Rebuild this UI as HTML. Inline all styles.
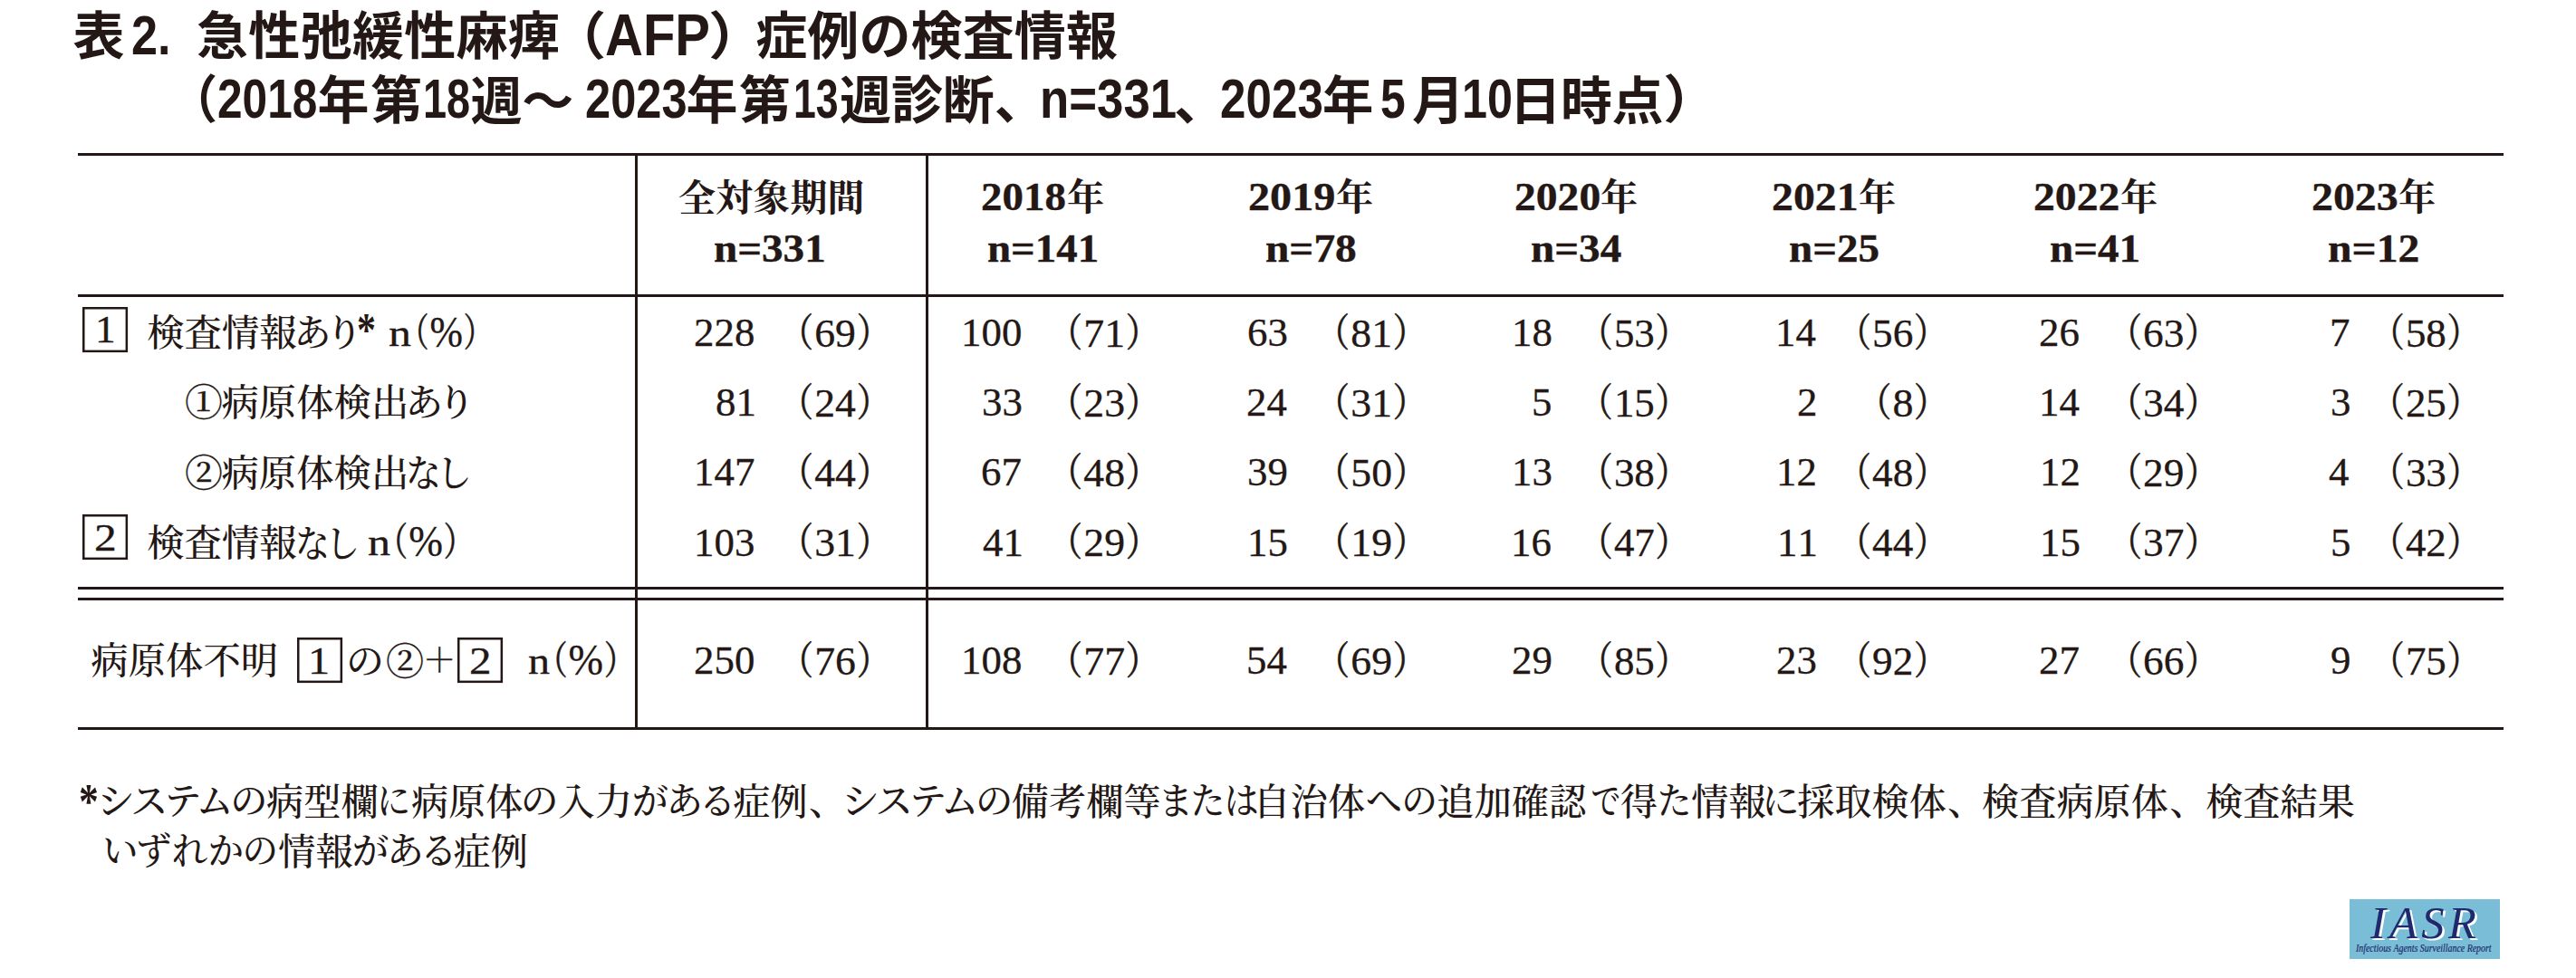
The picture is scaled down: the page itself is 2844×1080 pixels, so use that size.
<!DOCTYPE html>
<html lang="ja">
<head>
<meta charset="utf-8">
<title>表2. 急性弛緩性麻痺（AFP）症例の検査情報</title>
<style>
html,body{margin:0;padding:0;background:#fff;}
body{width:2844px;height:1080px;position:relative;overflow:hidden;color:#231815;}
.r{position:absolute;display:block;white-space:nowrap;line-height:1;transform-origin:0 0;margin:0;padding:0;font-kerning:none;}
.g{font-family:"Liberation Sans","Noto Sans CJK JP",sans-serif;font-weight:700;}
.m{font-family:"Liberation Serif","Noto Serif CJK JP","Noto Serif CJK SC",serif;font-weight:500;}
.mb{font-family:"Liberation Serif","Noto Serif CJK JP","Noto Serif CJK SC",serif;font-weight:700;}
.ln{position:absolute;background:#231815;}
.p{font-feature-settings:"palt" 1;font-size:0.975em;display:inline-block;transform:scaleX(0.82);-webkit-text-stroke:0.55px #231815;}
.pa{font-feature-settings:"palt" 1;}
.q{font-size:0.89em;}
.d{-webkit-text-stroke:0.3px #231815;}
.hd{-webkit-text-stroke:0.4px #231815;}
.box{position:absolute;box-sizing:border-box;border:1px solid #231815;width:20px;height:20px;transform:scale(2.505);transform-origin:0 0;}
.it{font-family:"Liberation Serif",serif;font-style:italic;font-weight:400;color:#1f2a6e;}
.logo{position:absolute;left:2594px;top:993px;width:166px;height:66px;background:#7abdd6;}

</style>
</head>
<body>
<div class="ln" style="left:86px;top:169px;width:2678px;height:3px"></div>
<div class="ln" style="left:86px;top:325px;width:2678px;height:3px"></div>
<div class="ln" style="left:86px;top:648px;width:2678px;height:3px"></div>
<div class="ln" style="left:86px;top:660px;width:2678px;height:3px"></div>
<div class="ln" style="left:86px;top:803px;width:2678px;height:3px"></div>
<div class="ln" style="left:701px;top:169px;width:3px;height:637px"></div>
<div class="ln" style="left:1022px;top:169px;width:3px;height:637px"></div>
<div class="box" style="left:91.1px;top:338.9px"></div>
<div class="box" style="left:91.1px;top:568.2px"></div>
<div class="box" style="left:327.6px;top:704.0px"></div>
<div class="box" style="left:504.8px;top:704.0px"></div>
<div class="logo"></div>
<span class="r g" style="left:80.44px;top:11.60px;font-size:57px;">表</span>
<span class="r g" style="left:144.72px;top:8.20px;font-size:62px;transform:scaleX(0.8422);">2.</span>
<span class="r g" style="left:217.10px;top:12.20px;font-size:57px;letter-spacing:0.28px;">急性弛緩性麻痺</span>
<span class="r g" style="left:608.25px;top:12.00px;font-size:57px;transform:scaleX(1.0750);">（</span>
<span class="r g" style="left:668.01px;top:6.90px;font-size:64.9px;transform:scaleX(0.8944);">AFP</span>
<span class="r g" style="left:782.30px;top:12.00px;font-size:57px;transform:scaleX(1.1000);">）</span>
<span class="r g" style="left:834.20px;top:12.20px;font-size:57px;letter-spacing:0.13px;">症例の検査情報</span>
<span class="r g" style="left:186.00px;top:82.30px;font-size:57px;transform:scaleX(0.9500);">（</span>
<span class="r g" style="left:240.30px;top:78.30px;font-size:62px;transform:scaleX(0.8000);">2018</span>
<span class="r g" style="left:350.60px;top:82.50px;font-size:57px;letter-spacing:1.6px;">年第</span>
<span class="r g" style="left:467.17px;top:78.30px;font-size:62px;transform:scaleX(0.7571);">18</span>
<span class="r g" style="left:519.40px;top:83.50px;font-size:57px;letter-spacing:-0.2px;">週～</span>
<span class="r g" style="left:645.89px;top:78.30px;font-size:62px;transform:scaleX(0.8165);">2023</span>
<span class="r g" style="left:757.50px;top:82.50px;font-size:57px;letter-spacing:1.5px;">年第</span>
<span class="r g" style="left:876.12px;top:78.30px;font-size:62px;transform:scaleX(0.7206);">13</span>
<span class="r g" style="left:927.00px;top:82.50px;font-size:57px;letter-spacing:-0.1px;">週診断、</span>
<span class="r g" style="left:1148.09px;top:78.30px;font-size:62px;transform:scaleX(0.8517);">n=331</span>
<span class="r g" style="left:1296.31px;top:83.50px;font-size:57px;transform:scaleX(1.0294);">、</span>
<span class="r g" style="left:1347.25px;top:78.30px;font-size:62px;transform:scaleX(0.8254);">2023</span>
<span class="r g" style="left:1459.92px;top:82.50px;font-size:57px;transform:scaleX(0.9887);">年</span>
<span class="r g" style="left:1523.89px;top:78.30px;font-size:62px;transform:scaleX(0.8032);">5</span>
<span class="r g" style="left:1558.87px;top:82.50px;font-size:57px;transform:scaleX(1.0130);">月</span>
<span class="r g" style="left:1613.95px;top:78.30px;font-size:62px;transform:scaleX(0.8113);">10</span>
<span class="r g" style="left:1666.50px;top:83.50px;font-size:57px;letter-spacing:-0.45px;">日時点</span>
<span class="r g" style="left:1835.92px;top:82.30px;font-size:57px;transform:scaleX(1.0938);">）</span>
<span class="r mb" style="left:749.00px;top:198.60px;font-size:41px;letter-spacing:0.15px;">全対象期間</span>
<span class="r mb hd" style="left:788.12px;top:253.30px;font-size:43.8px;transform:scaleX(1.0759);">n=331</span>
<span class="r mb hd" style="left:1082.53px;top:196.30px;font-size:43.8px;transform:scaleX(1.0716);">2018</span>
<span class="r mb" style="left:1177.99px;top:197.90px;font-size:41px;transform:scaleX(1.0053);">年</span>
<span class="r mb hd" style="left:1089.53px;top:253.30px;font-size:43.8px;transform:scaleX(1.0705);">n=141</span>
<span class="r mb hd" style="left:1378.20px;top:196.30px;font-size:43.8px;transform:scaleX(1.1000);">2019</span>
<span class="r mb" style="left:1475.09px;top:197.90px;font-size:41px;transform:scaleX(1.0053);">年</span>
<span class="r mb hd" style="left:1397.22px;top:253.30px;font-size:43.8px;transform:scaleX(1.0824);">n=78</span>
<span class="r mb hd" style="left:1671.63px;top:196.30px;font-size:43.8px;transform:scaleX(1.0869);">2020</span>
<span class="r mb" style="left:1767.39px;top:197.90px;font-size:41px;transform:scaleX(1.0053);">年</span>
<span class="r mb hd" style="left:1689.72px;top:253.30px;font-size:43.8px;transform:scaleX(1.0761);">n=34</span>
<span class="r mb hd" style="left:1955.62px;top:196.30px;font-size:43.8px;transform:scaleX(1.0917);">2021</span>
<span class="r mb" style="left:2051.79px;top:197.90px;font-size:41px;transform:scaleX(1.0053);">年</span>
<span class="r mb hd" style="left:1974.63px;top:253.30px;font-size:43.8px;transform:scaleX(1.0747);">n=25</span>
<span class="r mb hd" style="left:2245.32px;top:196.30px;font-size:43.8px;transform:scaleX(1.0881);">2022</span>
<span class="r mb" style="left:2341.19px;top:197.90px;font-size:41px;transform:scaleX(1.0053);">年</span>
<span class="r mb hd" style="left:2263.43px;top:253.30px;font-size:43.8px;transform:scaleX(1.0744);">n=41</span>
<span class="r mb hd" style="left:2552.21px;top:196.30px;font-size:43.8px;transform:scaleX(1.0929);">2023</span>
<span class="r mb" style="left:2648.49px;top:197.90px;font-size:41px;transform:scaleX(1.0053);">年</span>
<span class="r mb hd" style="left:2570.31px;top:253.30px;font-size:43.8px;transform:scaleX(1.0879);">n=12</span>
<span class="r m d" style="left:765.56px;top:346.10px;font-size:44px;transform:scaleX(1.0200);">228</span>
<span class="r m d" style="left:877.00px;top:346.60px;font-size:44px;transform:scaleX(1.0380);"><span class="p">（</span>69<span class="p">）</span></span>
<span class="r m d" style="left:1061.10px;top:346.10px;font-size:44px;transform:scaleX(1.0200);">100</span>
<span class="r m d" style="left:1174.38px;top:346.60px;font-size:44px;transform:scaleX(1.0394);"><span class="p">（</span>71<span class="p">）</span></span>
<span class="r m d" style="left:1377.16px;top:346.10px;font-size:44px;transform:scaleX(1.0200);">63</span>
<span class="r m d" style="left:1469.08px;top:346.60px;font-size:44px;transform:scaleX(1.0394);"><span class="p">（</span>81<span class="p">）</span></span>
<span class="r m d" style="left:1668.96px;top:346.10px;font-size:44px;transform:scaleX(1.0200);">18</span>
<span class="r m d" style="left:1760.43px;top:346.60px;font-size:44px;transform:scaleX(1.0211);"><span class="p">（</span>53<span class="p">）</span></span>
<span class="r m d" style="left:1960.10px;top:346.10px;font-size:44px;transform:scaleX(1.0200);">14</span>
<span class="r m d" style="left:2044.77px;top:346.60px;font-size:44px;transform:scaleX(1.0282);"><span class="p">（</span>56<span class="p">）</span></span>
<span class="r m d" style="left:2251.44px;top:346.10px;font-size:44px;transform:scaleX(1.0200);">26</span>
<span class="r m d" style="left:2343.57px;top:346.60px;font-size:44px;transform:scaleX(1.0282);"><span class="p">（</span>63<span class="p">）</span></span>
<span class="r m d" style="left:2572.18px;top:346.10px;font-size:44px;transform:scaleX(1.0200);">7</span>
<span class="r m d" style="left:2634.03px;top:346.60px;font-size:44px;transform:scaleX(1.0211);"><span class="p">（</span>58<span class="p">）</span></span>
<span class="r m d" style="left:789.60px;top:423.10px;font-size:44px;transform:scaleX(1.0200);">81</span>
<span class="r m d" style="left:877.00px;top:423.60px;font-size:44px;transform:scaleX(1.0380);"><span class="p">（</span>24<span class="p">）</span></span>
<span class="r m d" style="left:1084.26px;top:423.10px;font-size:44px;transform:scaleX(1.0200);">33</span>
<span class="r m d" style="left:1174.38px;top:423.60px;font-size:44px;transform:scaleX(1.0394);"><span class="p">（</span>23<span class="p">）</span></span>
<span class="r m d" style="left:1375.92px;top:423.10px;font-size:44px;transform:scaleX(1.0200);">24</span>
<span class="r m d" style="left:1469.08px;top:423.60px;font-size:44px;transform:scaleX(1.0394);"><span class="p">（</span>31<span class="p">）</span></span>
<span class="r m d" style="left:1691.40px;top:423.10px;font-size:44px;transform:scaleX(1.0200);">5</span>
<span class="r m d" style="left:1760.43px;top:423.60px;font-size:44px;transform:scaleX(1.0211);"><span class="p">（</span>15<span class="p">）</span></span>
<span class="r m d" style="left:1983.70px;top:423.10px;font-size:44px;transform:scaleX(1.0200);">2</span>
<span class="r m d" style="left:2067.08px;top:423.60px;font-size:44px;transform:scaleX(1.0449);"><span class="p">（</span>8<span class="p">）</span></span>
<span class="r m d" style="left:2251.46px;top:423.10px;font-size:44px;transform:scaleX(1.0200);">14</span>
<span class="r m d" style="left:2343.57px;top:423.60px;font-size:44px;transform:scaleX(1.0282);"><span class="p">（</span>34<span class="p">）</span></span>
<span class="r m d" style="left:2573.20px;top:423.10px;font-size:44px;transform:scaleX(1.0200);">3</span>
<span class="r m d" style="left:2634.03px;top:423.60px;font-size:44px;transform:scaleX(1.0211);"><span class="p">（</span>25<span class="p">）</span></span>
<span class="r m d" style="left:765.50px;top:500.30px;font-size:44px;transform:scaleX(1.0200);">147</span>
<span class="r m d" style="left:877.00px;top:500.80px;font-size:44px;transform:scaleX(1.0380);"><span class="p">（</span>44<span class="p">）</span></span>
<span class="r m d" style="left:1083.24px;top:500.30px;font-size:44px;transform:scaleX(1.0200);">67</span>
<span class="r m d" style="left:1174.38px;top:500.80px;font-size:44px;transform:scaleX(1.0394);"><span class="p">（</span>48<span class="p">）</span></span>
<span class="r m d" style="left:1377.16px;top:500.30px;font-size:44px;transform:scaleX(1.0200);">39</span>
<span class="r m d" style="left:1469.08px;top:500.80px;font-size:44px;transform:scaleX(1.0394);"><span class="p">（</span>50<span class="p">）</span></span>
<span class="r m d" style="left:1668.96px;top:500.30px;font-size:44px;transform:scaleX(1.0200);">13</span>
<span class="r m d" style="left:1760.43px;top:500.80px;font-size:44px;transform:scaleX(1.0211);"><span class="p">（</span>38<span class="p">）</span></span>
<span class="r m d" style="left:1961.26px;top:500.30px;font-size:44px;transform:scaleX(1.0200);">12</span>
<span class="r m d" style="left:2044.77px;top:500.80px;font-size:44px;transform:scaleX(1.0282);"><span class="p">（</span>48<span class="p">）</span></span>
<span class="r m d" style="left:2252.46px;top:500.30px;font-size:44px;transform:scaleX(1.0200);">12</span>
<span class="r m d" style="left:2343.57px;top:500.80px;font-size:44px;transform:scaleX(1.0282);"><span class="p">（</span>29<span class="p">）</span></span>
<span class="r m d" style="left:2571.16px;top:500.30px;font-size:44px;transform:scaleX(1.0200);">4</span>
<span class="r m d" style="left:2634.03px;top:500.80px;font-size:44px;transform:scaleX(1.0211);"><span class="p">（</span>33<span class="p">）</span></span>
<span class="r m d" style="left:765.56px;top:577.50px;font-size:44px;transform:scaleX(1.0200);">103</span>
<span class="r m d" style="left:877.00px;top:578.00px;font-size:44px;transform:scaleX(1.0380);"><span class="p">（</span>31<span class="p">）</span></span>
<span class="r m d" style="left:1085.14px;top:577.50px;font-size:44px;transform:scaleX(1.0200);">41</span>
<span class="r m d" style="left:1174.38px;top:578.00px;font-size:44px;transform:scaleX(1.0394);"><span class="p">（</span>29<span class="p">）</span></span>
<span class="r m d" style="left:1377.16px;top:577.50px;font-size:44px;transform:scaleX(1.0200);">15</span>
<span class="r m d" style="left:1469.08px;top:578.00px;font-size:44px;transform:scaleX(1.0394);"><span class="p">（</span>19<span class="p">）</span></span>
<span class="r m d" style="left:1667.94px;top:577.50px;font-size:44px;transform:scaleX(1.0200);">16</span>
<span class="r m d" style="left:1760.43px;top:578.00px;font-size:44px;transform:scaleX(1.0211);"><span class="p">（</span>47<span class="p">）</span></span>
<span class="r m d" style="left:1962.14px;top:577.50px;font-size:44px;transform:scaleX(1.0200);">11</span>
<span class="r m d" style="left:2044.77px;top:578.00px;font-size:44px;transform:scaleX(1.0282);"><span class="p">（</span>44<span class="p">）</span></span>
<span class="r m d" style="left:2252.46px;top:577.50px;font-size:44px;transform:scaleX(1.0200);">15</span>
<span class="r m d" style="left:2343.57px;top:578.00px;font-size:44px;transform:scaleX(1.0282);"><span class="p">（</span>37<span class="p">）</span></span>
<span class="r m d" style="left:2573.20px;top:577.50px;font-size:44px;transform:scaleX(1.0200);">5</span>
<span class="r m d" style="left:2634.03px;top:578.00px;font-size:44px;transform:scaleX(1.0211);"><span class="p">（</span>42<span class="p">）</span></span>
<span class="r m d" style="left:765.56px;top:708.10px;font-size:44px;transform:scaleX(1.0200);">250</span>
<span class="r m d" style="left:877.00px;top:708.60px;font-size:44px;transform:scaleX(1.0380);"><span class="p">（</span>76<span class="p">）</span></span>
<span class="r m d" style="left:1061.10px;top:708.10px;font-size:44px;transform:scaleX(1.0200);">108</span>
<span class="r m d" style="left:1174.38px;top:708.60px;font-size:44px;transform:scaleX(1.0394);"><span class="p">（</span>77<span class="p">）</span></span>
<span class="r m d" style="left:1375.92px;top:708.10px;font-size:44px;transform:scaleX(1.0200);">54</span>
<span class="r m d" style="left:1469.08px;top:708.60px;font-size:44px;transform:scaleX(1.0394);"><span class="p">（</span>69<span class="p">）</span></span>
<span class="r m d" style="left:1668.96px;top:708.10px;font-size:44px;transform:scaleX(1.0200);">29</span>
<span class="r m d" style="left:1760.43px;top:708.60px;font-size:44px;transform:scaleX(1.0211);"><span class="p">（</span>85<span class="p">）</span></span>
<span class="r m d" style="left:1961.26px;top:708.10px;font-size:44px;transform:scaleX(1.0200);">23</span>
<span class="r m d" style="left:2044.77px;top:708.60px;font-size:44px;transform:scaleX(1.0282);"><span class="p">（</span>92<span class="p">）</span></span>
<span class="r m d" style="left:2251.44px;top:708.10px;font-size:44px;transform:scaleX(1.0200);">27</span>
<span class="r m d" style="left:2343.57px;top:708.60px;font-size:44px;transform:scaleX(1.0282);"><span class="p">（</span>66<span class="p">）</span></span>
<span class="r m d" style="left:2573.20px;top:708.10px;font-size:44px;transform:scaleX(1.0200);">9</span>
<span class="r m d" style="left:2634.03px;top:708.60px;font-size:44px;transform:scaleX(1.0211);"><span class="p">（</span>75<span class="p">）</span></span>
<span class="r m d" style="left:104.76px;top:342.90px;font-size:42.8px;transform:scaleX(1.0600);">1</span>
<span class="r m" style="left:162.15px;top:347.90px;font-size:41.4px;">検査情報</span>
<span class="r m pa" style="left:325.73px;top:347.50px;font-size:41.4px;transform:scaleX(0.9918);">あり</span>
<span class="r mb" style="left:394.19px;top:338.80px;font-size:52px;transform:scaleX(0.8045);">*</span>
<span class="r m d" style="left:428.84px;top:346.00px;font-size:43px;transform:scaleX(1.1600);">n</span>
<span class="r m d" style="left:454.70px;top:343.00px;font-size:48px;transform:scaleX(0.9119);"><span class="p q">（</span>%<span class="p q">）</span></span>
<span class="r m d" style="left:203.79px;top:424.70px;font-size:41.4px;transform:scaleX(1.0128);">①</span>
<span class="r m" style="left:244.45px;top:424.90px;font-size:41.4px;">病原体検出</span>
<span class="r m pa" style="left:448.67px;top:424.70px;font-size:41.4px;transform:scaleX(1.0082);">あり</span>
<span class="r m d" style="left:203.79px;top:502.70px;font-size:41.4px;transform:scaleX(1.0128);">②</span>
<span class="r m" style="left:244.45px;top:502.50px;font-size:41.4px;">病原体検出</span>
<span class="r m pa" style="left:447.94px;top:503.30px;font-size:41.4px;transform:scaleX(0.9406);">なし</span>
<span class="r m d" style="left:103.79px;top:572.10px;font-size:43px;transform:scaleX(1.1529);">2</span>
<span class="r m" style="left:162.15px;top:580.20px;font-size:41.4px;">検査情報</span>
<span class="r m pa" style="left:326.03px;top:580.70px;font-size:41.4px;transform:scaleX(0.9174);">なし</span>
<span class="r m d" style="left:405.83px;top:577.40px;font-size:43px;transform:scaleX(1.1650);">n</span>
<span class="r m d" style="left:430.88px;top:574.40px;font-size:48px;transform:scaleX(0.9448);"><span class="p q">（</span>%<span class="p q">）</span></span>
<span class="r m" style="left:100.25px;top:709.50px;font-size:41.4px;">病原体不明</span>
<span class="r m d" style="left:340.09px;top:708.80px;font-size:42.8px;transform:scaleX(1.1267);">1</span>
<span class="r m" style="left:381.54px;top:710.50px;font-size:41.4px;transform:scaleX(1.0152);">の</span>
<span class="r m d" style="left:425.58px;top:710.80px;font-size:41.4px;transform:scaleX(1.0179);">②</span>
<span class="r m hd" style="left:467.26px;top:712.40px;font-size:36px;transform:scaleX(1.0107);">＋</span>
<span class="r m d" style="left:517.92px;top:707.80px;font-size:43px;transform:scaleX(1.1412);">2</span>
<span class="r m d" style="left:583.18px;top:707.60px;font-size:43px;transform:scaleX(1.1200);">n</span>
<span class="r m d" style="left:607.45px;top:704.60px;font-size:48px;transform:scaleX(0.9642);"><span class="p q">（</span>%<span class="p q">）</span></span>
<span class="r mb" style="left:87.08px;top:858.30px;font-size:54px;transform:scaleX(0.8087);">*</span>
<span class="r m pa" style="left:109.00px;top:864.90px;font-size:41.2px;transform:scaleX(1.0011);">システムの</span>
<span class="r m" style="left:294.05px;top:865.90px;font-size:41.2px;">病型欄</span>
<span class="r m pa" style="left:416.24px;top:864.90px;font-size:41.2px;transform:scaleX(0.8937);">に</span>
<span class="r m" style="left:453.95px;top:865.90px;font-size:41.2px;">病原体</span>
<span class="r m pa" style="left:575.34px;top:864.90px;font-size:41.2px;transform:scaleX(1.0152);">の</span>
<span class="r m" style="left:615.90px;top:865.90px;font-size:41.2px;">入力</span>
<span class="r m pa" style="left:697.19px;top:864.90px;font-size:41.2px;transform:scaleX(0.9766);">がある</span>
<span class="r m" style="left:809.20px;top:865.90px;font-size:41.2px;">症例</span>
<span class="r m" style="left:893.00px;top:865.90px;font-size:41.2px;">、</span>
<span class="r m pa" style="left:930.78px;top:864.90px;font-size:41.2px;transform:scaleX(1.0051);">システムの</span>
<span class="r m" style="left:1116.85px;top:865.90px;font-size:41.2px;">備考欄等</span>
<span class="r m pa" style="left:1281.46px;top:864.90px;font-size:41.2px;transform:scaleX(0.9197);">または</span>
<span class="r m" style="left:1383.55px;top:865.90px;font-size:41.2px;">自治体</span>
<span class="r m pa" style="left:1508.17px;top:864.90px;font-size:41.2px;transform:scaleX(0.9645);">への</span>
<span class="r m" style="left:1586.60px;top:865.90px;font-size:41.2px;">追加確認</span>
<span class="r m pa" style="left:1756.91px;top:864.90px;font-size:41.2px;transform:scaleX(0.7944);">で</span>
<span class="r m" style="left:1788.90px;top:865.90px;font-size:41.2px;">得</span>
<span class="r m pa" style="left:1830.26px;top:864.90px;font-size:41.2px;transform:scaleX(0.9147);">た</span>
<span class="r m" style="left:1867.20px;top:865.90px;font-size:41.2px;">情報</span>
<span class="r m pa" style="left:1945.48px;top:864.90px;font-size:41.2px;transform:scaleX(1.0031);">に</span>
<span class="r m" style="left:1984.20px;top:865.90px;font-size:41.2px;">採取検体</span>
<span class="r m" style="left:2149.90px;top:865.90px;font-size:41.2px;">、</span>
<span class="r m" style="left:2188.05px;top:865.90px;font-size:41.2px;">検査病原体</span>
<span class="r m" style="left:2395.20px;top:865.90px;font-size:41.2px;">、</span>
<span class="r m" style="left:2435.15px;top:865.90px;font-size:41.2px;">検査結果</span>
<span class="r m pa" style="left:112.40px;top:919.80px;font-size:41.2px;transform:scaleX(0.9603);">いずれかの</span>
<span class="r m" style="left:307.30px;top:920.80px;font-size:41.2px;">情報</span>
<span class="r m pa" style="left:387.75px;top:919.80px;font-size:41.2px;transform:scaleX(0.9869);">がある</span>
<span class="r m" style="left:500.55px;top:920.80px;font-size:41.2px;">症例</span>
<span class="r it" style="left:2616.90px;top:994.30px;font-size:50.5px;letter-spacing:4.37px;text-shadow:2.5px 2px 0 #fff;">IASR</span>
<span class="r it" style="left:2601.41px;top:1041.00px;font-size:12.5px;transform:scaleX(0.7904);-webkit-text-stroke:0.2px #1f2a6e;">Infectious Agents Surveillance Report</span>
</body>
</html>
